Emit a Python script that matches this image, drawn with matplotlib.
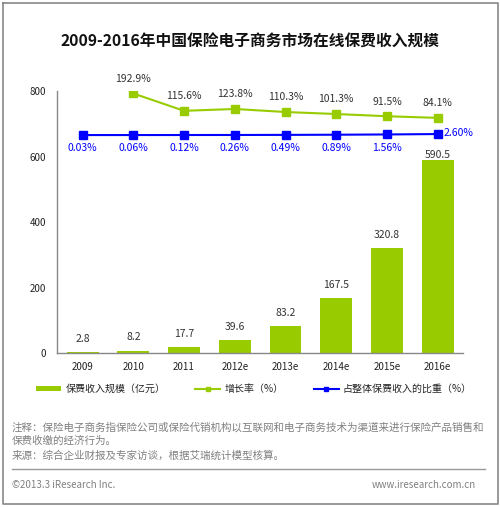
import matplotlib
matplotlib.use("Agg")
import matplotlib.pyplot as plt
from matplotlib.lines import Line2D

plt.rcParams['font.family'] = ['Noto Sans CJK SC', 'DejaVu Sans']

years = ['2009', '2010', '2011', '2012e', '2013e', '2014e', '2015e', '2016e']
revenue = [2.8, 8.2, 17.7, 39.6, 83.2, 167.5, 320.8, 590.5]
growth_years = ['2010', '2011', '2012e', '2013e', '2014e', '2015e', '2016e']
growth = [192.9, 115.6, 123.8, 110.3, 101.3, 91.5, 84.1]
share = [0.03, 0.06, 0.12, 0.26, 0.49, 0.89, 1.56, 2.60]
yticks = [0, 200, 400, 600, 800]

GREEN = '#99CC00'
BLUE = '#0000FF'
TXT = '#333333'

fig = plt.figure(figsize=(5.0, 5.07), dpi=100)
ax = fig.add_axes([0.1146, 0.3032, 0.8114, 0.5173])

x = list(range(len(years)))
bars = ax.bar(x, revenue, width=0.63, color=GREEN, label='保费收入规模（亿元）', zorder=2)
ax.set_xlim(-0.5, len(years) - 0.5)
ax.set_ylim(0, 800)
ax.set_yticks(yticks)
ax.set_xticks(x)
ax.set_xticklabels(years)
ax.tick_params(length=0, labelsize=7, colors='#222222', pad=6)
ax.tick_params(axis='y', pad=8)
for s in ['top', 'right']:
    ax.spines[s].set_visible(False)
for s in ['left', 'bottom']:
    ax.spines[s].set_color('#888888')
    ax.spines[s].set_linewidth(1.0)

for i, v in enumerate(revenue):
    off = 3.5 if i == len(revenue) - 1 else 9.5
    ax.annotate(f'{v:.1f}', (i, v), xytext=(0, off), textcoords='offset points',
                ha='center', va='center', fontsize=7.5, color=TXT)

# growth line on hidden secondary axis
ax2 = ax.twinx()
ax2.set_ylim(-966, 204)
gx = [years.index(y) for y in growth_years]
l2, = ax2.plot(gx, growth, color=GREEN, lw=1.5, marker='s', markersize=5.2,
               label='增长率（%）', zorder=3)
for xi, v in zip(gx, growth):
    ax2.annotate(f'{v:.1f}%', (xi, v), xytext=(0, 10.5), textcoords='offset points',
                 ha='center', va='center', fontsize=7.5, color=TXT)

# share line on hidden third axis
ax3 = ax.twinx()
ax3.set_ylim(-554.6, 112)
l3, = ax3.plot(x, share, color=BLUE, lw=1.5, marker='s', markersize=5.2,
               label='占整体保费收入的比重（%）', zorder=3)
for xi, v in zip(x, share):
    if xi == len(x) - 1:
        ax3.annotate(f'{v:.2f}%', (xi, v), xytext=(4, 0.5), textcoords='offset points',
                     ha='left', va='center', fontsize=7.5, color=BLUE)
    else:
        ax3.annotate(f'{v:.2f}%', (xi, v), xytext=(0, -9.5), textcoords='offset points',
                     ha='center', va='center', fontsize=7.5, color=BLUE)

for a in (ax2, ax3):
    a.set_xlim(-0.5, len(years) - 0.5)
    a.axis('off')

# title
fig.text(0.5, 1 - 42 / 507, '2009-2016年中国保险电子商务市场在线保费收入规模',
         ha='center', va='center', fontsize=11.3, fontweight='bold', color='#111111')

# legend
leg = fig.legend(handles=[bars, l2, l3], loc='center', bbox_to_anchor=(0.508, 1 - 389 / 507),
                 ncol=3, frameon=False, fontsize=7.2, handlelength=2.5, handleheight=0.35,
                 handletextpad=0.4, columnspacing=3.0, markerscale=0.6)
for t in leg.get_texts():
    t.set_color('#222222')

# notes
NOTE = '#808080'
fig.text(12 / 500, 1 - 427 / 507,
         '注释：保险电子商务指保险公司或保险代销机构以互联网和电子商务技术为渠道来进行保险产品销售和',
         ha='left', va='center', fontsize=7.6, color=NOTE)
fig.text(12 / 500, 1 - 441 / 507, '保费收缴的经济行为。',
         ha='left', va='center', fontsize=7.6, color=NOTE)
fig.text(12 / 500, 1 - 456 / 507, '来源：综合企业财报及专家访谈，根据艾瑞统计模型核算。',
         ha='left', va='center', fontsize=7.6, color=NOTE)
fig.add_artist(Line2D([12 / 500, 485 / 500], [1 - 469 / 507, 1 - 469 / 507],
                      transform=fig.transFigure, color='#999999', lw=1.0))
fig.text(12 / 500, 1 - 485 / 507, '©2013.3 iResearch Inc.',
         ha='left', va='center', fontsize=7, color=NOTE)
fig.text(476 / 500, 1 - 485 / 507, 'www.iresearch.com.cn',
         ha='right', va='center', fontsize=7, color=NOTE)

# outer border
bx = [2.5 / 500, 497.5 / 500, 497.5 / 500, 2.5 / 500, 2.5 / 500]
by = [1 - 2.5 / 507, 1 - 2.5 / 507, 1 - 503.5 / 507, 1 - 503.5 / 507, 1 - 2.5 / 507]
fig.add_artist(Line2D(bx, by, transform=fig.transFigure, color='#888888', lw=1.2))

fig.savefig('out.png', dpi=100)
